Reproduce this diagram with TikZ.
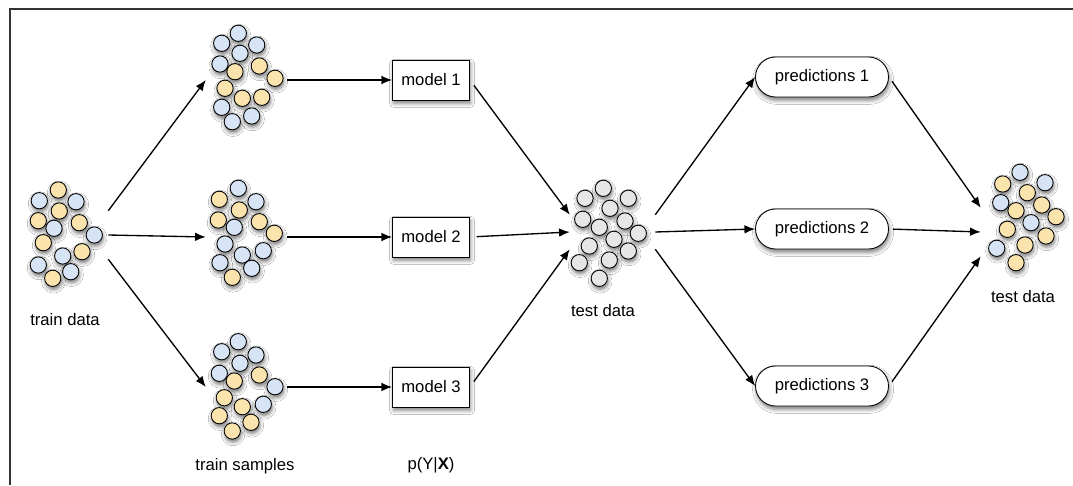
\documentclass[tikz,border=0pt]{standalone}
\usepackage{fontspec}
\setmainfont{Liberation Sans}
\usetikzlibrary{arrows.meta,shadows.blur,calc}
\definecolor{cb}{RGB}{214,228,246}
\definecolor{cy}{RGB}{250,227,172}
\definecolor{cg}{RGB}{230,230,230}
\begin{document}
\begin{tikzpicture}[x=0.75pt,y=-0.75pt,
  every node/.style={font=\fontsize{12.5pt}{15pt}\selectfont},
  dot/.style={circle,draw=black,line width=0.65pt,minimum size=12.2pt,inner sep=0pt,
    blur shadow={shadow xshift=0.6pt,shadow yshift=-2.2pt,shadow blur radius=2.8pt,shadow opacity=55}},
  modelbox/.style={rectangle,draw=black,line width=0.65pt,fill=white,minimum width=57.75pt,minimum height=30pt,inner sep=0pt,
    blur shadow={shadow xshift=0.8pt,shadow yshift=-2.5pt,shadow blur radius=3pt,shadow opacity=50}},
  predbox/.style={rectangle,rounded corners=15pt,draw=black,line width=0.65pt,fill=white,minimum width=99.75pt,minimum height=30pt,inner sep=0pt,
    blur shadow={shadow xshift=0.8pt,shadow yshift=-2.5pt,shadow blur radius=3pt,shadow opacity=50}},
  cluster/.style={rectangle,draw=none,inner sep=0pt},
  arr/.style={line width=1pt,-{Latex[length=8pt,width=6.5pt]}},
  lbl/.style={inner sep=0pt}
]
\fill[white] (0,0) rectangle (1073,485);
\useasboundingbox (0,0) rectangle (1073,485);
\draw[line width=1.1pt,black!80] (10,485) -- (10,9) -- (1073,9);

% train data
\foreach \x/\y/\c [count=\i] in {58.3/190/cy,39.3/200.7/cb,59.3/211/cy,76/201.7/cb,38.3/220.7/cy,54/228.3/cb,79.3/222.7/cy,94.3/235/cb,43.3/242.7/cy,62.7/256/cb,82/251.7/cy,38.3/265/cb,70.7/271.7/cb,52.7/278.3/cy}
  \node[dot,fill=\c] (td\i) at (\x,\y) {};
% sample 1
\foreach \x/\y/\c [count=\i] in {238.3/33.3/cb,221.7/43.3/cb,256.7/45/cb,240/53.3/cb,220/64/cb,235/71.7/cy,259.3/66/cy,275/78.3/cy,225/88.3/cy,242.3/98.3/cy,261.7/97.3/cy,221.7/107.3/cb,251.7/116/cb,232.3/121.7/cb}
  \node[dot,fill=\c] (sa\i) at (\x,\y) {};
% sample 2
\foreach \x/\y/\c [count=\i] in {238.3/188.3/cb,219.3/199.3/cy,256/201.7/cb,239.3/210/cy,218.3/220/cy,234.3/227.3/cb,259.3/221.7/cy,274.3/233.3/cy,225/244/cb,242.3/255/cb,263.3/250.7/cb,220/262.7/cb,251.7/268.3/cb,232.3/277.3/cy}
  \node[dot,fill=\c] (sb\i) at (\x,\y) {};
% sample 3
\foreach \x/\y/\c [count=\i] in {238.3/341.7/cb,221.7/351.7/cb,256/355/cb,240/363.3/cb,219.3/373.3/cb,234.3/381/cy,259.3/375/cy,275/386.7/cb,224.3/397.7/cy,242.3/406.7/cy,263.3/404.3/cb,219.3/415.7/cy,251/422.3/cy,232.3/431/cy}
  \node[dot,fill=\c] (sc\i) at (\x,\y) {};
% test data
\foreach \x/\y [count=\i] in {603.3/188.3,585/198.3,628.3/198.3,610/208.3,582.7/219.3,625/221,599.3/227.3,638.3/233.3,614/239.3,589.3/246,628.3/251,609.3/260,579.3/262.7,599.3/278.3}
  \node[dot,fill=cg] (te\i) at (\x,\y) {};
% final
\foreach \x/\y/\c [count=\i] in {1020/172.3/cb,1002.7/184/cy,1045/182.7/cb,1027.3/192.7/cy,1000.7/202.7/cb,1016/210.7/cy,1041.7/205/cy,1056/216.7/cy,1031/222.7/cb,1007.3/229.3/cy,1046/236/cy,1025/245/cy,996.7/248.3/cb,1016/262.7/cy}
  \node[dot,fill=\c] (fi\i) at (\x,\y) {};

% cluster anchors
\node[cluster,minimum width=58.5pt,minimum height=36pt] (tr) at (69,235) {};
\node[cluster,minimum width=60.75pt,minimum height=6pt] (s1) at (246.5,80) {};
\node[cluster,minimum width=60.75pt,minimum height=6pt] (s2) at (246.5,237) {};
\node[cluster,minimum width=60.75pt,minimum height=6pt] (s3) at (246.5,387) {};
\node[cluster,minimum width=63.75pt,minimum height=25.5pt] (te) at (612.5,232) {};
\node[cluster,minimum width=59.25pt,minimum height=36pt] (fin) at (1020.5,232) {};

% boxes
\node[modelbox] (m1) at (431,80) {model 1};
\node[modelbox] (m2) at (431,237) {model 2};
\node[modelbox] (m3) at (431,387) {model 3};
\node[predbox] (p1) at (822,77) {predictions 1};
\node[predbox] (p2) at (822,229) {predictions 2};
\node[predbox] (p3) at (822,386) {predictions 3};

% labels
\node[lbl] (ltr) at (65,320) {train data};
\node[lbl] (lsa) at (245,466) {train samples};
\node[lbl] (lpy) at (431,465) {p(Y|\textbf{X})};
\node[lbl] (lte) at (603,311) {test data};
\node[lbl] (lfi) at (1023,297) {test data};

% connectors
\draw[arr] (tr.north east) -- (s1.west);
\draw[arr] (tr.east) -- (s2.west);
\draw[arr] (tr.south east) -- (s3.west);
\draw[arr] (s1.east) -- (m1.west);
\draw[arr] (s2.east) -- (m2.west);
\draw[arr] (s3.east) -- (m3.west);
\draw[arr,shorten <=5pt] (m1.east) -- (te.north west);
\draw[arr,shorten <=5pt] (m2.east) -- (te.west);
\draw[arr,shorten <=5pt] (m3.east) -- (te.south west);
\draw[arr] (te.north east) -- (p1.west);
\draw[arr] (te.east) -- (p2.west);
\draw[arr] (te.south east) -- (p3.west);
\draw[arr,shorten <=4pt] (p1.east) -- (fin.north west);
\draw[arr,shorten <=3pt] (p2.east) -- (fin.west);
\draw[arr,shorten <=4pt] (p3.east) -- (fin.south west);
\end{tikzpicture}
\end{document}
